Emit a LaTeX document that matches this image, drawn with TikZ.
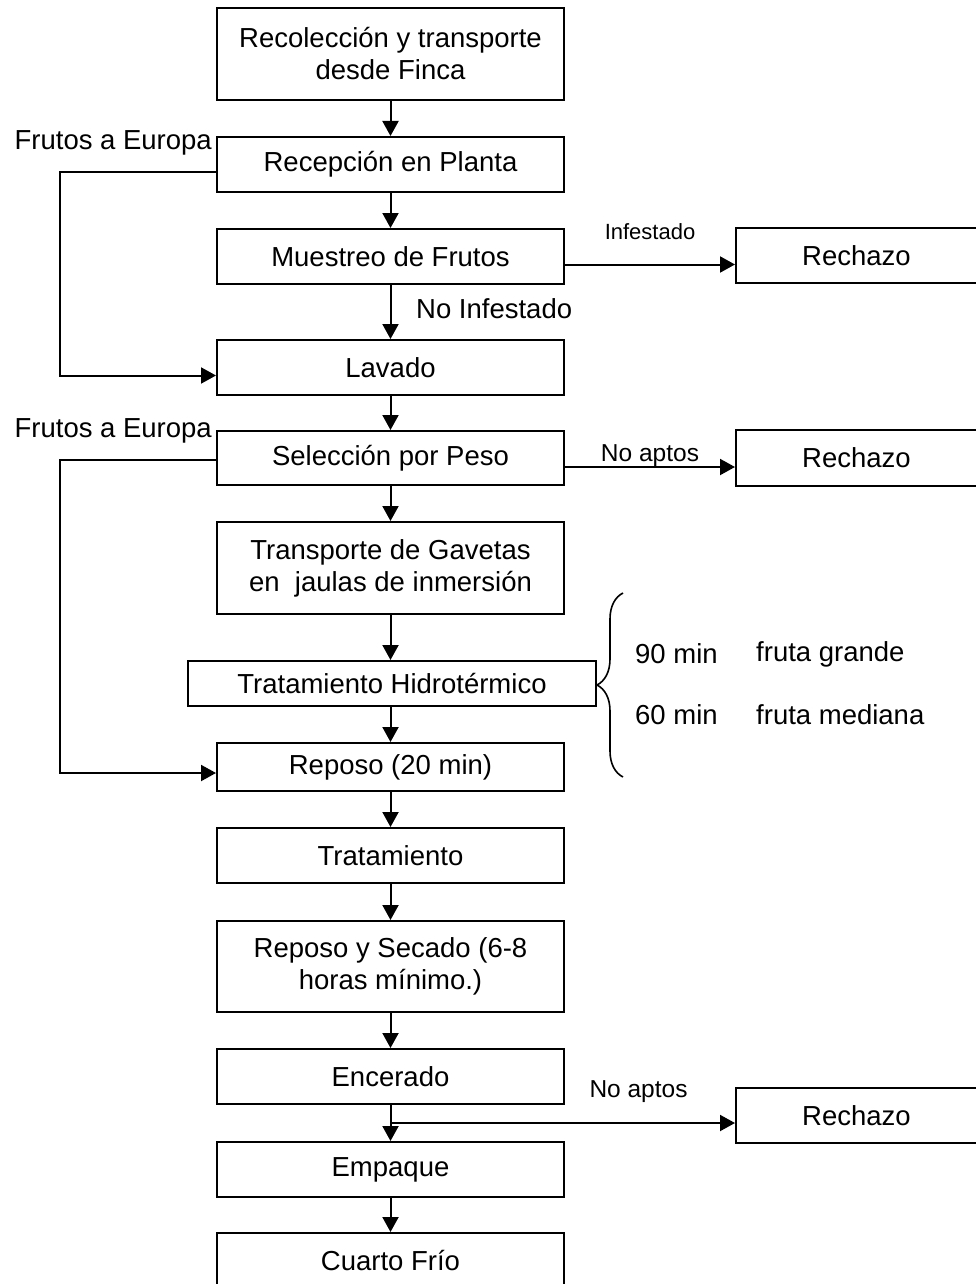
\documentclass[tikz,border=0pt]{standalone}
\usepackage{fontspec}
\setmainfont{Liberation Sans}
\usetikzlibrary{shapes, arrows.meta, positioning, calc, decorations.pathreplacing}

\tikzset{
  proceso/.style={draw, line width=2pt, minimum width=347pt, minimum height=55pt, align=center, inner sep=2pt, font=\fontsize{27.5}{32}\selectfont},
  rechazo/.style={proceso, minimum width=241pt},
  flecha/.style={line width=2pt, -{Triangle[length=15pt,width=16pt]}},
  etiqueta/.style={font=\fontsize{27.5}{32}\selectfont, inner sep=0pt}
}

\begin{document}
\begin{tikzpicture}[x=1pt, y=-1pt]
  \useasboundingbox (0,0) rectangle (976,1284);

  % Linea principal
  \node[proceso, minimum height=92pt] (reco) at (390.5,54) {Recolección y transporte\\desde Finca};
  \node[proceso] (recep) at (390.5,164.5) {Recepción en Planta};
  \node[proceso] (muest) at (390.5,256.5) {Muestreo de Frutos};
  \node[proceso] (lav) at (390.5,367.5) {Lavado};
  \node[proceso, minimum height=54pt] (sel) at (390.5,458) {Selección por Peso};
  \node[proceso, minimum height=92pt] (transp) at (390.5,568) {Transporte de Gavetas\\en\ \ jaulas de inmersión};
  \node[proceso, minimum width=408pt, minimum height=45pt] (hidro) at (392,683.5) {Tratamiento Hidrotérmico};
  \node[proceso, minimum height=48pt] (repo) at (390.5,767) {Reposo (20 min)};
  \node[proceso] (trat) at (390.5,855.5) {Tratamiento};
  \node[proceso, minimum height=91pt] (secado) at (390.5,966.5) {Reposo y Secado (6-8\\horas mínimo.)};
  \node[proceso] (ence) at (390.5,1076.5) {Encerado};
  \node[proceso] (emp) at (390.5,1169.5) {Empaque};
  \node[proceso] (frio) at (390.5,1260.5) {Cuarto Frío};

  % Rechazos
  \node[rechazo] (rech1) at (856.5,255.5) {Rechazo};
  \node[rechazo, minimum height=56pt] (rech2) at (856.5,458) {Rechazo};
  \node[rechazo] (rech3) at (856.5,1115.5) {Rechazo};

  \draw[flecha] (reco) -- (recep);
  \draw[flecha] (recep) -- (muest);
  \draw[flecha] (muest) -- (lav);
  \draw[flecha] (lav) -- (sel);
  \draw[flecha] (sel) -- (transp);
  \draw[flecha] (transp) -- (transp.south |- hidro.north);
  \draw[flecha] (hidro.south -| repo.north) -- (repo);
  \draw[flecha] (repo) -- (trat);
  \draw[flecha] (trat) -- (secado);
  \draw[flecha] (secado) -- (ence);
  \draw[flecha] (ence) -- (emp);
  \draw[flecha] (emp) -- (frio);

  \node[etiqueta, anchor=west] (noinf) at (416,309) {No Infestado};

  % Salidas a rechazo
  \draw[flecha] ([yshift=-8pt]muest.east) -- ([yshift=-8pt]muest.east -| rech1.west)
    node[midway, above=20pt, font=\fontsize{22}{26}\selectfont] (inf) {Infestado};
  \draw[flecha] ([yshift=-9pt]sel.east) -- ([yshift=-9pt]sel.east -| rech2.west)
    node[midway, above=-4pt, font=\fontsize{24.5}{28}\selectfont] (noapt1) {No aptos};
  \coordinate (rama) at ($(ence.south)!0.5!(emp.north)$);
  \draw[flecha] (rama) -- (rama -| rech3.west)
    node[pos=0.72, above=16pt, font=\fontsize{24.5}{28}\selectfont] (noapt2) {No aptos};

  % Frutos a Europa
  \node[etiqueta, anchor=east] (eur1) at (212,143) {Frutos a Europa};
  \node[etiqueta, anchor=east] (eur2) at (212,431) {Frutos a Europa};
  \draw[flecha] ([yshift=-8pt]recep.west) -- ++(-156,0) |- ([yshift=-8pt]lav.west);
  \draw[flecha] ([yshift=-2pt]sel.west) -- ++(-156,0) |- ([yshift=-6pt]repo.west);

  % Tiempos del tratamiento
  \draw[line width=1.6pt, decorate, decoration={brace, amplitude=26pt}] (623,777) -- (623,593);
  \node[etiqueta, anchor=west] (t90) at (635,654) {90 min};
  \node[etiqueta, anchor=west] (g90) at (756,654) {fruta grande};
  \node[etiqueta, anchor=west] (t60) at (635,715) {60 min};
  \node[etiqueta, anchor=west] (g60) at (756,715) {fruta mediana};
\end{tikzpicture}
\end{document}
